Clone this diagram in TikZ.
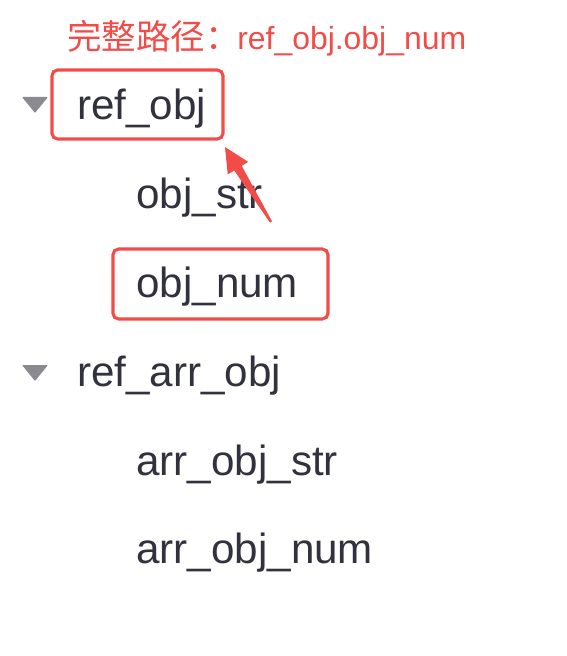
\documentclass[tikz,border=0pt]{standalone}
\usepackage{fontspec}
\setmainfont{Liberation Sans}
\newfontfamily\cjk{Noto Sans CJK SC}
\usetikzlibrary{calc}

\definecolor{annot}{RGB}{242,76,72}
\definecolor{itemtext}{RGB}{50,50,62}
\definecolor{caretgray}{RGB}{138,138,144}

\tikzset{
  item/.style={anchor=base west, inner sep=0pt, text=itemtext, font=\fontsize{30}{34}\selectfont},
  pathlabel/.style={anchor=base west, inner sep=0pt, text=annot, font=\fontsize{22.7}{26}\selectfont},
  hlbox/.style={draw=annot, line width=2.2pt, rounded corners=4pt},
  caret/.style={fill=caretgray, rounded corners=0.6pt}
}

\begin{document}
\begin{tikzpicture}[x=0.025cm, y=-0.025cm]
        \useasboundingbox (0,0) rectangle (566,656);

        % Caminho completo
        \node[pathlabel, font=\fontsize{24.5}{28}\selectfont] (pathcn) at (67,50) {\cjk 完整路径：};
        \node[pathlabel] (pathval) at (237,50) {ref\_obj.obj\_num};

        % Triangulos da arvore
        \fill[caret] (22,97) -- (48,97) -- (35,113) -- cycle;
        \fill[caret] (22,365) -- (48,365) -- (35,381) -- cycle;

        % Itens
        \node[item] (refobj) at (77,120) {ref\_obj};
        \node[item] (objstr) at (136,208) {obj\_str};
        \node[item] (objnum) at (136,297) {obj\_num};
        \node[item] (refarrobj) at (77,386) {ref\_arr\_obj};
        \node[item] (arrobjstr) at (136,475) {arr\_obj\_str};
        \node[item] (arrobjnum) at (136,563) {arr\_obj\_num};

        % Destaques
        \draw[hlbox] (52,70) rectangle (223,139);
        \draw[hlbox] (113,249) rectangle (328,319);

        % Seta
        \coordinate (tail) at (271,222);
        \coordinate (tip) at (225,147);
        \coordinate (hb) at ($(tip)!0.62cm!(tail)$);
        \fill[annot] ($(tail)!0.03cm!90:(tip)$) -- ($(hb)!0.11cm!90:(tip)$) -- ($(hb)!0.3cm!90:(tip)$) -- (tip)
            -- ($(hb)!0.3cm!-90:(tip)$) -- ($(hb)!0.11cm!-90:(tip)$) -- ($(tail)!0.03cm!-90:(tip)$) -- cycle;

    \end{tikzpicture}
\end{document}
